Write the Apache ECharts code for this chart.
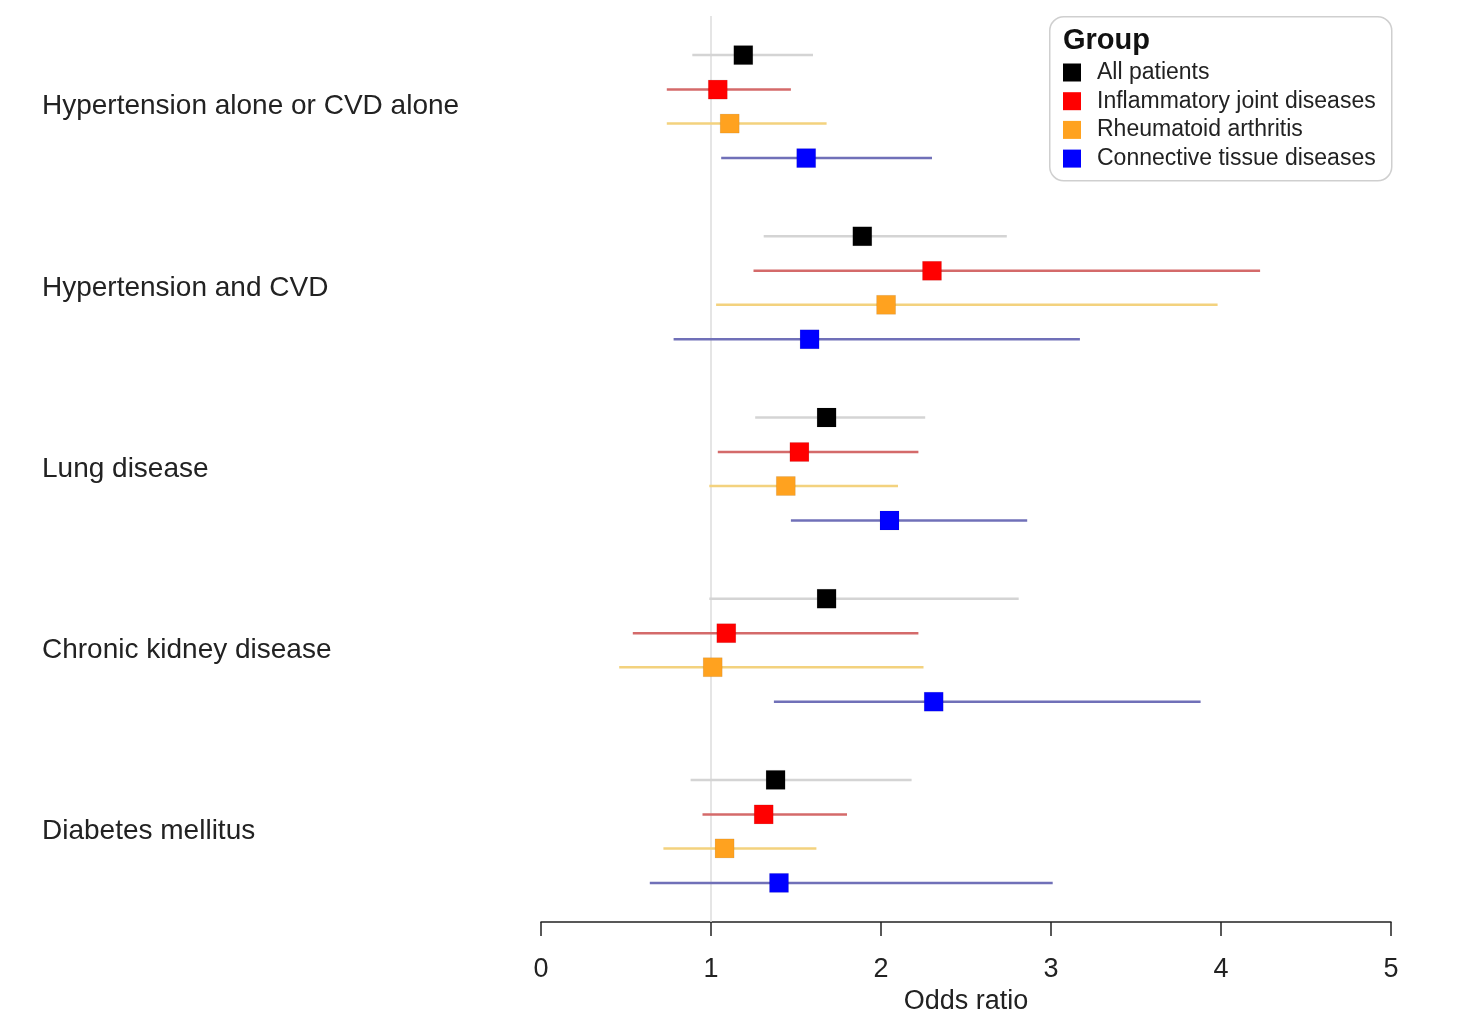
<!DOCTYPE html>
<html>
<head>
<meta charset="utf-8">
<script src="https://cdn.jsdelivr.net/npm/echarts@6/dist/echarts.min.js"></script>
<style>html,body{margin:0;padding:0;background:#fff;overflow:hidden;}#c{width:1476px;height:1020px;}</style>
</head>
<body>
<div id="c"></div>
<script>
const categories = ["Hypertension alone or CVD alone","Hypertension and CVD","Lung disease","Chronic kidney disease","Diabetes mellitus"];
const groups = ["All patients","Inflammatory joint diseases","Rheumatoid arthritis","Connective tissue diseases"];
const xTicks = [0,1,2,3,4,5];

const allEst  = [1.19, 1.89, 1.68, 1.68, 1.38];
const allLow  = [0.89, 1.31, 1.26, 0.99, 0.88];
const allHigh = [1.60, 2.74, 2.26, 2.81, 2.18];

const ijdEst  = [1.04, 2.30, 1.52, 1.09, 1.31];
const ijdLow  = [0.74, 1.25, 1.04, 0.54, 0.95];
const ijdHigh = [1.47, 4.23, 2.22, 2.22, 1.80];

const raEst  = [1.11, 2.03, 1.44, 1.01, 1.08];
const raLow  = [0.74, 1.03, 0.99, 0.46, 0.72];
const raHigh = [1.68, 3.98, 2.10, 2.25, 1.62];

const ctdEst  = [1.56, 1.58, 2.05, 2.31, 1.40];
const ctdLow  = [1.06, 0.78, 1.47, 1.37, 0.64];
const ctdHigh = [2.30, 3.17, 2.86, 3.88, 3.01];

const refValue = 1;

const FONT = '"Liberation Sans", Arial, sans-serif';
const markerColors = ['#000000', '#ff0000', '#ffa21f', '#0000ff'];
const lineColors = ['#d4d4d4', '#d46a6a', '#f3d27e', '#7070b8'];
const rowOffsets = [-51.5, -17, 17, 51.5];

const seriesSets = [
  [allLow, allEst, allHigh],
  [ijdLow, ijdEst, ijdHigh],
  [raLow, raEst, raHigh],
  [ctdLow, ctdEst, ctdHigh]
];

function makeRender(k) {
  return function (params, api) {
    const cat = api.value(3);
    const lo = api.coord([api.value(0), cat]);
    const est = api.coord([api.value(1), cat]);
    const hi = api.coord([api.value(2), cat]);
    const y = est[1] + rowOffsets[k];
    const s = 19;
    return {
      type: 'group',
      children: [
        { type: 'line', shape: { x1: lo[0], y1: y, x2: hi[0], y2: y }, style: { stroke: lineColors[k], lineWidth: 2.5 } },
        { type: 'rect', shape: { x: est[0] - s / 2, y: y - s / 2, width: s, height: s }, style: { fill: markerColors[k], stroke: 'rgba(0,0,0,0.15)', lineWidth: 0.5 } }
      ]
    };
  };
}

const series = seriesSets.map((set, k) => ({
  type: 'custom',
  name: groups[k],
  renderItem: makeRender(k),
  itemStyle: { color: markerColors[k] },
  encode: { x: [0, 1, 2], y: 3 },
  data: categories.map((c, i) => [set[0][i], set[1][i], set[2][i], i]),
  z: 5
}));

// reference line at OR = 1, spanning the plot height
series.unshift({
  type: 'custom',
  name: 'ref',
  silent: true,
  z: 1,
  encode: { x: 0, y: 1 },
  data: [[refValue, 0]],
  renderItem: function (params, api) {
    const p = api.coord([api.value(0), 0]);
    const cs = params.coordSys;
    return { type: 'line', shape: { x1: p[0], y1: cs.y, x2: p[0], y2: cs.y + cs.height },
      style: { stroke: '#dcdcdc', lineWidth: 1.5 } };
  }
});

const chart = echarts.init(document.getElementById('c'), null, { renderer: 'canvas', width: 1476, height: 1020 });
chart.setOption({
  backgroundColor: '#ffffff',
  animation: false,
  grid: { left: 541, right: 85, top: 16, bottom: 92 },
  xAxis: {
    type: 'value', min: 0, max: 5, interval: 1,
    name: 'Odds ratio', nameLocation: 'middle', nameGap: 66,
    nameTextStyle: { fontFamily: FONT, fontSize: 27, color: '#222' },
    axisLine: { show: true, lineStyle: { color: '#222', width: 1.5 } },
    axisTick: { show: true, length: 14, lineStyle: { color: '#222', width: 1.5 } },
    axisLabel: { fontFamily: FONT, fontSize: 27, color: '#222', margin: 34,
      formatter: v => xTicks.includes(v) ? String(v) : '' },
    splitLine: { show: false }
  },
  yAxis: {
    type: 'category', data: categories, inverse: true,
    axisLine: { show: false }, axisTick: { show: false }, splitLine: { show: false },
    axisLabel: { fontFamily: FONT, fontSize: 28, color: '#222', align: 'left', margin: 499 }
  },
  legend: {
    data: groups, orient: 'vertical', left: 1063, top: 61,
    icon: 'rect', itemWidth: 18, itemHeight: 18, itemGap: 5.7, padding: 0,
    textStyle: { fontFamily: FONT, fontSize: 23, color: '#222', lineHeight: 23, padding: [0, 0, 0, 11] },
    selectedMode: false
  },
  graphic: [
    { type: 'rect', left: 1049, top: 16, z: 0,
      shape: { width: 342, height: 164, r: 14 },
      style: { fill: '#fff', stroke: '#cfcfcf', lineWidth: 1.5 } },
    { type: 'text', left: 1063, top: 26, z: 10,
      style: { text: 'Group', fontFamily: FONT, fontSize: 29, fontWeight: 'bold', fill: '#111' } }
  ],
  series: series
});
</script>
</body>
</html>
